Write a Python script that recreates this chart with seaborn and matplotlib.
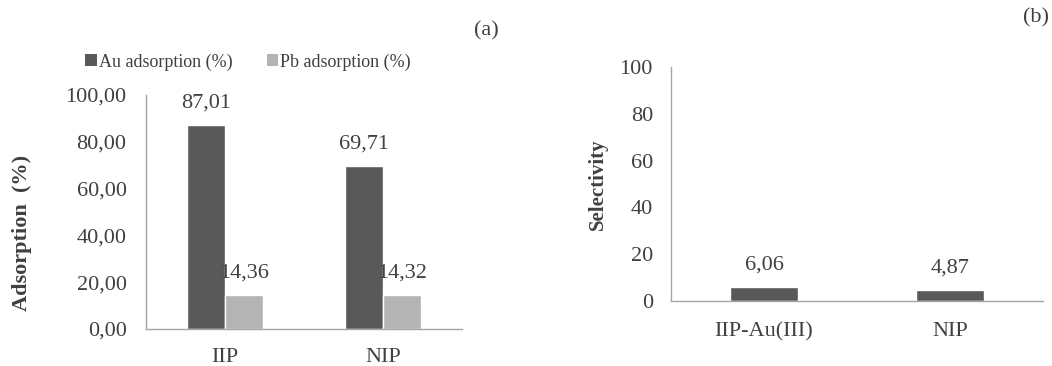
import matplotlib
matplotlib.use("Agg")
import matplotlib.pyplot as plt
from matplotlib.patches import Patch
import seaborn as sns
import pandas as pd

# Panel (a): adsorption of Au and Pb on the two polymers
materials = ["IIP", "NIP"]
au_adsorption = [87.01, 69.71]
pb_adsorption = [14.36, 14.32]
series_names = ["Au adsorption (%)", "Pb adsorption (%)"]

# Panel (b): selectivity
sel_materials = ["IIP-Au(III)", "NIP"]
selectivity = [6.06, 4.87]

dark = "#595959"
light = "#b4b4b4"
axis_grey = "#a6a6a6"
text_col = "#404040"

sns.set_theme(style="white")
plt.rcParams["font.family"] = ["Liberation Serif", "DejaVu Serif"]
plt.rcParams["text.color"] = text_col
plt.rcParams["axes.labelcolor"] = text_col
plt.rcParams["xtick.color"] = text_col
plt.rcParams["ytick.color"] = text_col

W, H = 1052, 366
fig = plt.figure(figsize=(W / 100, H / 100), dpi=100)


def px_axes(left, top, right, bottom):
    return fig.add_axes([left / W, 1 - bottom / H, (right - left) / W, (bottom - top) / H])


def comma(v):
    return f"{v:.2f}".replace(".", ",")


def style_axes(ax):
    sns.despine(ax=ax)
    for side in ("left", "bottom"):
        ax.spines[side].set_color(axis_grey)
        ax.spines[side].set_linewidth(1.0)
    ax.tick_params(axis="both", length=0)


# ---- (a) ----
df_a = pd.DataFrame({
    "material": materials * 2,
    "value": au_adsorption + pb_adsorption,
    "series": [series_names[0]] * 2 + [series_names[1]] * 2,
})
ax1 = px_axes(146, 95, 462, 329)
sns.barplot(data=df_a, x="material", y="value", hue="series",
            palette=[dark, light], width=0.48, saturation=1,
            legend=False, ax=ax1, errorbar=None)
ax1.set_ylim(0, 100)
ax1.set_yticks(range(0, 101, 20))
ax1.set_yticklabels([comma(t) for t in range(0, 101, 20)], fontsize=16)
ax1.tick_params(axis="y", pad=14)
ax1.tick_params(axis="x", pad=14, labelsize=16)
ax1.set_xlabel("")
ax1.set_ylabel("Adsorption  (%)", fontsize=16, fontweight="bold")
ax1.yaxis.set_label_coords(-0.36, 0.41)
style_axes(ax1)
for cont in ax1.containers:
    ax1.bar_label(cont, labels=[comma(b.get_height()) for b in cont],
                  fontsize=16, padding=9, color=text_col)

handles = [Patch(facecolor=dark, edgecolor="none"), Patch(facecolor=light, edgecolor="none")]
fig.legend(handles, series_names, loc="center", bbox_to_anchor=(248 / W, 1 - 62 / H),
           ncol=2, frameon=False, fontsize=13, handlelength=0.65, handleheight=0.65,
           handletextpad=0.1, columnspacing=1.9, borderpad=0, borderaxespad=0)
fig.text(486 / W, 1 - 31 / H, "(a)", fontsize=16, ha="center", va="center")

# ---- (b) ----
df_b = pd.DataFrame({"material": sel_materials, "value": selectivity})
ax2 = px_axes(671, 67, 1043, 301)
sns.barplot(data=df_b, x="material", y="value", color=dark, width=0.37,
            saturation=1, ax=ax2, errorbar=None)
ax2.set_ylim(0, 100)
ax2.set_yticks(range(0, 101, 20))
ax2.tick_params(axis="y", pad=13, labelsize=16)
ax2.tick_params(axis="x", pad=15, labelsize=16)
ax2.set_xlabel("")
ax2.set_ylabel("Selectivity", fontsize=15, fontweight="bold")
ax2.yaxis.set_label_coords(-0.17, 0.5)
style_axes(ax2)
for cont in ax2.containers:
    ax2.bar_label(cont, labels=[comma(b.get_height()) for b in cont],
                  fontsize=16, padding=9, color=text_col)
fig.text(1036 / W, 1 - 18 / H, "(b)", fontsize=16, ha="center", va="center")

fig.savefig("out.png", dpi=100, facecolor="white")
